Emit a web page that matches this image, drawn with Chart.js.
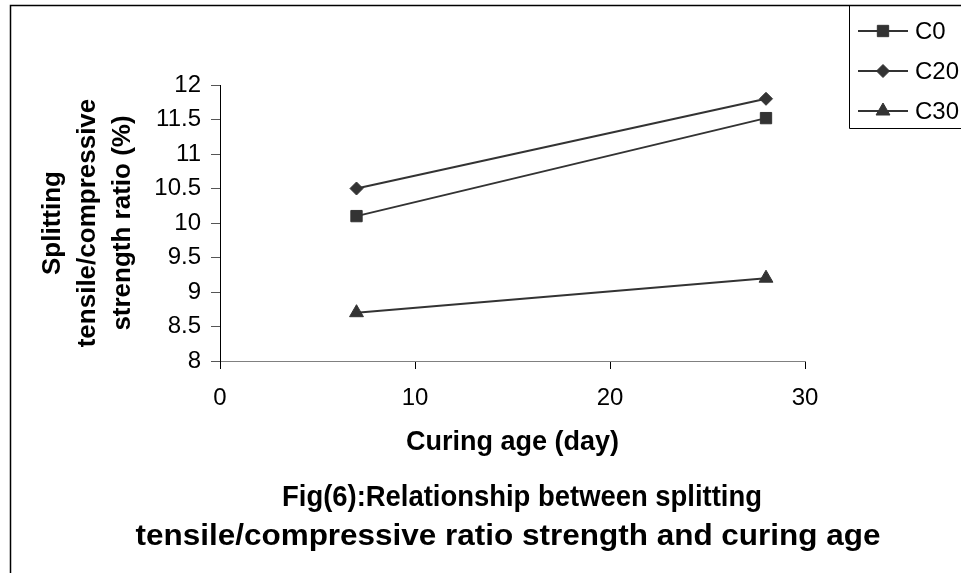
<!DOCTYPE html>
<html>
<head>
<meta charset="utf-8">
<script src="https://cdn.jsdelivr.net/npm/chart.js@4/dist/chart.umd.min.js"></script>
<style>
  html, body { margin: 0; padding: 0; background: #ffffff; }
  #wrap { width: 961px; height: 573px; position: relative; }
</style>
</head>
<body>
<div id="wrap"><canvas id="c" width="961" height="573"></canvas></div>
<script>
// ---- data ----
const curingAge = [7, 28];
const seriesNames = ['C0', 'C20', 'C30'];
const c0Values = [10.1, 11.52];
const c20Values = [10.5, 11.8];
const c30Values = [8.7, 9.2];
const xTickValues = [0, 10, 20, 30];
const yTickValues = [8, 8.5, 9, 9.5, 10, 10.5, 11, 11.5, 12];
const yTitleLines = ['Splitting', 'tensile/compressive', 'strength ratio (%)'];
const xTitleText = 'Curing age (day)';
const captionLines = ['Fig(6):Relationship between splitting', 'tensile/compressive ratio strength and curing age'];

const FONT = '"Liberation Sans", Arial, Helvetica, sans-serif';
Chart.defaults.font.family = FONT;
Chart.defaults.color = '#000';

const markerStyles = ['rect', 'rectRot', 'triangle'];
const markerRadius = [8, 6.5, 8];
const lineColor = '#333333';

function toPoints(vals) { return curingAge.map((x, i) => ({ x: x, y: vals[i] })); }
const allValues = [c0Values, c20Values, c30Values];

const datasets = seriesNames.map((name, i) => ({
  label: name,
  data: toPoints(allValues[i]),
  showLine: true,
  borderColor: lineColor,
  borderWidth: 2,
  backgroundColor: lineColor,
  pointBackgroundColor: lineColor,
  pointBorderColor: lineColor,
  pointBorderWidth: 1,
  pointStyle: markerStyles[i],
  pointRadius: markerRadius[i],
  pointHoverRadius: markerRadius[i],
  tension: 0
}));

function drawMarker(ctx, style, r, x, y) {
  if (Chart.helpers && Chart.helpers.drawPoint) {
    Chart.helpers.drawPoint(ctx, { pointStyle: style, radius: r, borderWidth: 1, rotation: 0 }, x, y);
    return;
  }
  ctx.beginPath();
  if (style === 'rect') { const s = r * Math.SQRT1_2; ctx.rect(x - s, y - s, 2 * s, 2 * s); }
  else if (style === 'rectRot') { ctx.moveTo(x, y - r); ctx.lineTo(x + r, y); ctx.lineTo(x, y + r); ctx.lineTo(x - r, y); ctx.closePath(); }
  else { ctx.moveTo(x, y - r); ctx.lineTo(x + r * 0.866, y + r / 2); ctx.lineTo(x - r * 0.866, y + r / 2); ctx.closePath(); }
  ctx.fill(); ctx.stroke();
}

// draw a text line centred at cx, scaled horizontally to a target width
function drawFitted(ctx, text, cx, cy, targetW) {
  const w = ctx.measureText(text).width;
  const sx = targetW / w;
  ctx.save();
  ctx.translate(cx, cy);
  ctx.scale(sx, 1);
  ctx.fillText(text, 0, 0);
  ctx.restore();
}

const decorPlugin = {
  id: 'decor',
  afterDraw(chart) {
    const ctx = chart.ctx;
    ctx.save();
    // outer frame
    ctx.strokeStyle = '#000';
    ctx.lineWidth = 1.5;
    ctx.beginPath();
    ctx.moveTo(10.5, 573);
    ctx.lineTo(10.5, 5.5);
    ctx.lineTo(961, 5.5);
    ctx.stroke();
    // legend box
    ctx.lineWidth = 1;
    ctx.strokeStyle = '#000';
    ctx.beginPath();
    ctx.moveTo(849.5, 5.5);
    ctx.lineTo(849.5, 128.5);
    ctx.lineTo(962, 128.5);
    ctx.stroke();
    // legend items
    const itemY = [31, 71, 111];
    chart.data.datasets.forEach((ds, i) => {
      const y = itemY[i];
      ctx.strokeStyle = ds.borderColor;
      ctx.lineWidth = 2;
      ctx.beginPath();
      ctx.moveTo(858, y);
      ctx.lineTo(908, y);
      ctx.stroke();
      ctx.fillStyle = ds.pointBackgroundColor;
      ctx.strokeStyle = ds.pointBorderColor;
      ctx.lineWidth = 1;
      drawMarker(ctx, ds.pointStyle, ds.pointRadius, 883, y);
      ctx.fillStyle = '#000';
      ctx.font = '24px ' + FONT;
      ctx.textAlign = 'left';
      ctx.textBaseline = 'middle';
      ctx.fillText(ds.label, 915, y + 1);
    });
    // caption
    ctx.fillStyle = '#000';
    ctx.font = 'bold 29px ' + FONT;
    ctx.textAlign = 'center';
    ctx.textBaseline = 'middle';
    drawFitted(ctx, captionLines[0], 522, 498, 480);
    drawFitted(ctx, captionLines[1], 508, 537, 745);
    ctx.restore();
  }
};

new Chart(document.getElementById('c'), {
  type: 'scatter',
  data: { datasets: datasets },
  options: {
    responsive: false,
    animation: false,
    devicePixelRatio: 1,
    layout: { padding: { left: 0, top: 85, right: 156, bottom: 0 } },
    plugins: {
      legend: { display: false },
      title: { display: false },
      tooltip: { enabled: false }
    },
    scales: {
      x: {
        type: 'linear',
        min: 0, max: 30,
        afterBuildTicks: (s) => { s.ticks = xTickValues.map(v => ({ value: v })); },
        afterFit: (s) => { s.height = 212; },
        grid: { drawOnChartArea: false, drawTicks: true, tickLength: 8, color: '#000', tickWidth: 1 },
        border: { display: true, color: '#808080', width: 1 },
        ticks: { font: { size: 24 }, padding: 15, color: '#000', maxRotation: 0, autoSkip: false,
                 callback: (v) => String(v) },
        title: {
          display: true, text: xTitleText,
          font: { size: 27, weight: 'bold', lineHeight: 1.2 },
          padding: { top: 0, bottom: 114 },
          color: '#000'
        }
      },
      y: {
        type: 'linear',
        min: 8, max: 12,
        afterBuildTicks: (s) => { s.ticks = yTickValues.map(v => ({ value: v })); },
        afterFit: (s) => { s.width = 220; },
        grid: { drawOnChartArea: false, drawTicks: true, tickLength: 9, color: '#555', tickWidth: 1 },
        border: { display: true, color: '#000', width: 1 },
        ticks: { font: { size: 24 }, padding: 10, color: '#000', autoSkip: false,
                 callback: (v) => String(v) },
        title: {
          display: true, text: yTitleLines,
          font: { size: 26, weight: 'bold', lineHeight: 1.33 },
          padding: { top: 36, bottom: 0 },
          color: '#000'
        }
      }
    }
  },
  plugins: [decorPlugin]
});
</script>
</body>
</html>
